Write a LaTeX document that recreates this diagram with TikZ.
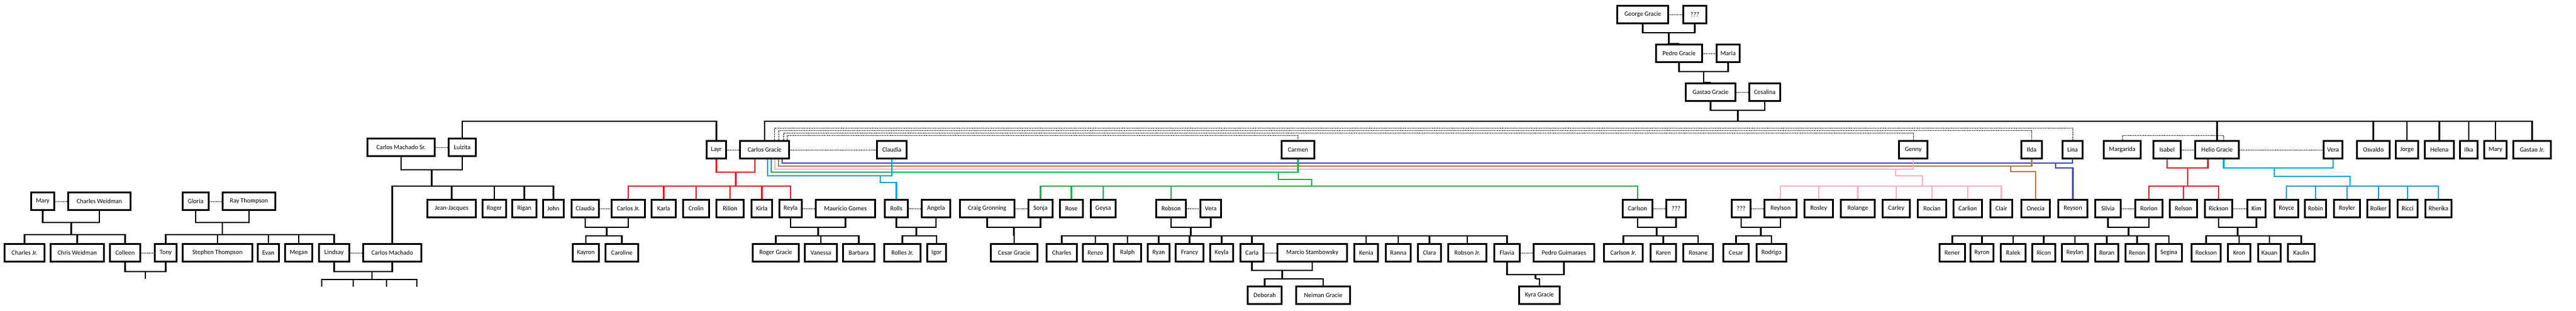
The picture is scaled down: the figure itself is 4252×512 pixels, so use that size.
\documentclass[tikz,border=0pt]{standalone}
\usepackage{fontspec}
\setmainfont{Carlito}
\usetikzlibrary{calc}
\definecolor{rd}{HTML}{ED1C24}
\definecolor{cy}{HTML}{00A2E8}
\definecolor{gn}{HTML}{22B14C}
\definecolor{pk}{HTML}{FFAEC9}
\definecolor{br}{HTML}{B97A57}
\definecolor{bl}{HTML}{3F48CC}
\tikzset{
  p/.style={draw, line width=2.6pt, minimum height=29.4pt, inner sep=1pt, font=\fontsize{10.5}{12}\selectfont},
  ln/.style={line width=2.6pt},
  sp/.style={line width=0.8pt, dash pattern=on 0.8pt off 0.8pt}
}
\newcommand\pn[5]{\node[p, minimum width={#3-#2-2.6}] (#1) at ({(#2+#3)/2},{#4+16}) {#5};}
\newcommand\family[6][]{%
  \draw[ln,#1] (#2) -- ++(0,#4) -| (#3);
  \coordinate (fj) at ($(#2)!.5!(#3)+(0,#4)$);
  \draw[ln,#1] (fj) -- (fj |- 0,#5);
  \foreach \k in {#6} \draw[ln,#1] (fj |- 0,#5) -| (\k.north);
}
\begin{document}
\begin{tikzpicture}[x=1pt, y=-1pt]
\useasboundingbox (0,0) rectangle (4252,512);
\pn{george}{2668}{2755}{8}{George Gracie}
\pn{q0}{2777}{2818}{8}{???}
\pn{pedro}{2732}{2811}{72}{Pedro Gracie}
\pn{maria}{2832}{2873}{72}{Maria}
\pn{gastao}{2781}{2866}{136}{Gastao Gracie}
\pn{cesalina}{2886}{2940}{136}{Cesalina}
\pn{cms}{605}{719}{227}{Carlos Machado Sr.}
\pn{luiz}{739}{787}{227}{Luizita}
\pn{layr}{1165}{1200}{231}{Layr}
\pn{cg}{1220}{1304}{231}{Carlos Gracie}
\pn{claudiaw}{1446}{1498}{231}{Claudia}
\pn{carmen}{2114}{2171}{231}{Carmen}
\pn{genny}{3133}{3183}{231}{Genny}
\pn{ilda}{3335}{3372}{231}{Ilda}
\pn{lina}{3403}{3439}{231}{Lina}
\pn{margarida}{3471}{3535}{231}{Margarida}
\pn{isabel}{3553}{3601}{231}{Isabel}
\pn{helio}{3622}{3697}{231}{Helio Gracie}
\pn{vera2}{3834}{3868}{231}{Vera}
\pn{osvaldo}{3889}{3946}{231}{Osvaldo}
\pn{jorge}{3953}{3993}{231}{Jorge}
\pn{helena}{4001}{4052}{231}{Helena}
\pn{ilka}{4059}{4091}{231}{Ilka}
\pn{maryg}{4099}{4139}{231}{Mary}
\pn{gastaojr}{4147}{4212}{231}{Gastao Jr.}
\pn{mary}{50}{91}{316}{Mary}
\pn{cw}{111}{217}{316}{Charles Weidman}
\pn{gloria}{300}{346}{316}{Gloria}
\pn{ray}{366}{456}{316}{Ray Thompson}
\pn{jj}{704}{787}{328}{Jean-Jacques}
\pn{rogerm}{795}{837}{328}{Roger}
\pn{rigan}{844}{887}{328}{Rigan}
\pn{john}{895}{932}{328}{John}
\pn{cld}{942}{990}{328}{Claudia}
\pn{carlosjr}{1008}{1066}{328}{Carlos Jr.}
\pn{karla}{1074}{1117}{328}{Karla}
\pn{crolin}{1126}{1172}{328}{Crolin}
\pn{rilion}{1181}{1229}{328}{Rilion}
\pn{kirla}{1239}{1276}{328}{Kirla}
\pn{reyla}{1285}{1325}{328}{Reyla}
\pn{mauricio}{1345}{1446}{328}{Mauricio Gomes}
\pn{rolls}{1459}{1500}{328}{Rolls}
\pn{angela}{1520}{1570}{328}{Angela}
\pn{craig}{1583}{1676}{328}{Craig Gronning}
\pn{sonja}{1696}{1739}{328}{Sonja}
\pn{rose}{1748}{1789}{328}{Rose}
\pn{geysa}{1799}{1843}{328}{Geysa}
\pn{robson}{1907}{1959}{328}{Robson}
\pn{vera}{1980}{2017}{328}{Vera}
\pn{carlson}{2677}{2729}{328}{Carlson}
\pn{q1}{2749}{2784}{328}{???}
\pn{q2}{2857}{2891}{328}{???}
\pn{reylson}{2911}{2967}{328}{Reylson}
\pn{rosley}{2977}{3027}{328}{Rosley}
\pn{rolange}{3037}{3096}{328}{Rolange}
\pn{carley}{3106}{3154}{328}{Carley}
\pn{rocian}{3164}{3214}{328}{Rocian}
\pn{carlion}{3223}{3273}{328}{Carlion}
\pn{clair}{3284}{3323}{328}{Clair}
\pn{onecia}{3335}{3385}{328}{Onecia}
\pn{reyson}{3396}{3447}{328}{Reyson}
\pn{silvia}{3457}{3502}{328}{Silvia}
\pn{rorion}{3523}{3571}{328}{Rorion}
\pn{relson}{3580}{3628}{328}{Relson}
\pn{rickson}{3638}{3686}{328}{Rickson}
\pn{kim}{3708}{3741}{328}{Kim}
\pn{royce}{3753}{3795}{328}{Royce}
\pn{robin}{3803}{3841}{328}{Robin}
\pn{royler}{3851}{3897}{328}{Royler}
\pn{rolker}{3906}{3946}{328}{Rolker}
\pn{ricci}{3956}{3992}{328}{Ricci}
\pn{rherika}{4002}{4048}{328}{Rherika}
\pn{cjr}{6}{75}{401}{Charles Jr.}
\pn{chrisw}{82}{173}{401}{Chris Weidman}
\pn{colleen}{180}{233}{401}{Colleen}
\pn{tony}{254}{293}{401}{Tony}
\pn{stephen}{300}{418}{401}{Stephen Thompson}
\pn{evan}{424}{462}{401}{Evan}
\pn{megan}{469}{517}{401}{Megan}
\pn{lindsay}{525}{578}{401}{Lindsay}
\pn{cmach}{598}{697}{401}{Carlos Machado}
\pn{kayron}{944}{990}{401}{Kayron}
\pn{caroline}{998}{1055}{401}{Caroline}
\pn{rogerg}{1241}{1320}{401}{Roger Gracie}
\pn{vanessa}{1327}{1383}{401}{Vanessa}
\pn{barbara}{1390}{1445}{401}{Barbara}
\pn{rollesjr}{1458}{1521}{401}{Rolles Jr.}
\pn{igor}{1529}{1563}{401}{Igor}
\pn{cesarg}{1634}{1714}{401}{Cesar Gracie}
\pn{charles}{1726}{1779}{401}{Charles}
\pn{renzo}{1786}{1830}{401}{Renzo}
\pn{ralph}{1837}{1885}{401}{Ralph}
\pn{ryan}{1893}{1932}{401}{Ryan}
\pn{francy}{1939}{1988}{401}{Francy}
\pn{keyla}{1996}{2037}{401}{Keyla}
\pn{carla}{2046}{2087}{401}{Carla}
\pn{marcio}{2107}{2225}{401}{Marcio Stambowsky}
\pn{kenia}{2234}{2276}{401}{Kenia}
\pn{ranna}{2286}{2330}{401}{Ranna}
\pn{clara}{2339}{2380}{401}{Clara}
\pn{robsonjr}{2389}{2455}{401}{Robson Jr.}
\pn{flavia}{2465}{2510}{401}{Flavia}
\pn{pedrog}{2530}{2633}{401}{Pedro Guimaraes}
\pn{carlsonjr}{2646}{2713}{401}{Carlson Jr.}
\pn{karen}{2723}{2768}{401}{Karen}
\pn{rosane}{2777}{2829}{401}{Rosane}
\pn{cesar}{2843}{2888}{401}{Cesar}
\pn{rodrigo}{2898}{2950}{401}{Rodrigo}
\pn{rener}{3200}{3245}{401}{Rener}
\pn{ryron}{3251}{3292}{401}{Ryron}
\pn{ralek}{3301}{3345}{401}{Ralek}
\pn{ricon}{3353}{3394}{401}{Ricon}
\pn{reylan}{3402}{3448}{401}{Reylan}
\pn{roran}{3457}{3498}{401}{Roran}
\pn{renon}{3507}{3548}{401}{Renon}
\pn{segina}{3557}{3603}{401}{Segina}
\pn{rockson}{3616}{3667}{401}{Rockson}
\pn{kron}{3676}{3716}{401}{Kron}
\pn{kauan}{3726}{3766}{401}{Kauan}
\pn{kaulin}{3775}{3822}{401}{Kaulin}
\pn{deborah}{2058}{2117}{471}{Deborah}
\pn{neiman}{2138}{2230}{471}{Neiman Gracie}
\pn{kyra}{2506}{2576}{471}{Kyra Gracie}
\foreach \a/\b in {george/q0, pedro/maria, gastao/cesalina, cms/luiz, layr/cg, cg/claudiaw,
  isabel/helio, helio/vera2, mary/cw, gloria/ray, cld/carlosjr, reyla/mauricio, rolls/angela,
  craig/sonja, robson/vera, carlson/q1, q2/reylson, silvia/rorion, rickson/kim, colleen/tony,
  lindsay/cmach, carla/marcio, flavia/pedrog}
  \draw[sp] (\a.east) -- (\b.west);
\draw[sp] ([xshift=16pt]cg.north) -- ++(0,-20) -| (lina.north);
\draw[sp] ([xshift=23pt]cg.north) -- ++(0,-16) -| (ilda.north);
\draw[sp] ([xshift=31pt]cg.north) -- ++(0,-12) -| (genny.north);
\draw[sp] ([xshift=37pt]cg.north) -- ++(0,-8) -| (carmen.north);
\draw[sp] (margarida.north) -- ++(0,-8) -| ([xshift=11pt]helio.north);
\family{george.south}{q0.south}{14}{72}{pedro}
\family{pedro.south}{maria.south}{14}{136}{gastao}
\family{gastao.south}{cesalina.south}{14}{200}{cg,helio,osvaldo,jorge,helena,ilka,maryg,gastaojr}
\draw[ln] (luiz.north) |- (layr.north |- 0,200) -- (layr.north);
\family{cms.south}{luiz.south}{21}{307}{cmach,jj,rogerm,rigan,john}
\family{mary.south}{cw.south}{19}{387}{cjr,chrisw,colleen}
\family{gloria.south}{ray.south}{19}{387}{tony,stephen,evan,megan,lindsay}
\draw[ln] (colleen.south) -- ++(0,15) -| (tony.south);
\coordinate (ct) at ($(colleen.south)!.5!(tony.south)+(0,15)$);
\draw[ln] (ct) -- ++(0,12);
\draw[ln] (lindsay.south) -- ++(0,15) -| (cmach.south);
\coordinate (lc) at (614,448);
\draw[ln] (lc) -- (lc |- 0,461);
\foreach \i/\x in {1/531,2/583,3/638,4/688} {
  \coordinate (cm\i) at (\x,473);
  \draw[ln] (lc |- 0,461) -| (cm\i);
}
\family[rd]{layr.south}{[xshift=-16pt]cg.south}{21}{307}{carlosjr,karla,crolin,rilion,kirla,reyla}
\family{cld.south}{carlosjr.south}{15}{389}{kayron,caroline}
\family{reyla.south}{mauricio.south}{15}{389}{rogerg,vanessa,barbara}
\family{rolls.south}{angela.south}{15}{389}{rollesjr,igor}
\family{craig.south}{sonja.south}{15}{389}{cesarg}
\family{robson.south}{vera.south}{15}{389}{charles,renzo,ralph,ryan,francy,keyla,carla,kenia,ranna,clara,robsonjr,flavia}
\family{carla.south}{marcio.south}{13}{460}{deborah,neiman}
\family{flavia.south}{pedrog.south}{20}{460}{kyra}
\family{carlson.south}{q1.south}{15}{389}{carlsonjr,karen,rosane}
\family{q2.south}{reylson.south}{15}{389}{cesar,rodrigo}
\family{silvia.south}{rorion.south}{15}{389}{rener,ryron,ralek,ricon,reylan,roran,renon,segina}
\family{rickson.south}{kim.south}{15}{389}{rockson,kron,kauan,kaulin}
\draw[ln,bl] ([xshift=29pt]cg.south) |- (lina.south |- 0,269) -- (lina.south);
\coordinate (blA) at (3393,269);
\draw[ln,bl] (blA) -- ++(0,8) -| (reyson.north);
\draw[ln,br] ([xshift=23pt]cg.south) |- (ilda.south |- 0,274) -- (ilda.south);
\coordinate (brA) at (3319,274);
\draw[ln,br] (brA) -- ++(0,9) -| (onecia.north);
\draw[ln,pk] ([xshift=17pt]cg.south) |- (genny.south |- 0,279) -- (genny.south);
\coordinate (pkA) at (3129,279);
\draw[ln,pk] (pkA) -- ++(0,11) -- ++(44,0) -- ++(0,17) coordinate (pkC);
\foreach \k in {reylson,rosley,rolange,carley,rocian,carlion,clair} \draw[ln,pk] (pkC) -| (\k.north);
\draw[ln,gn] ([xshift=11pt]cg.south) |- (carmen.south |- 0,284) -- (carmen.south);
\coordinate (gnA) at (2110,284);
\draw[ln,gn] (gnA) -- ++(0,12) -- ++(55,0) -- ++(0,11) coordinate (gnC);
\foreach \k in {sonja,rose,geysa,robson,carlson} \draw[ln,gn] (gnC) -| (\k.north);
\draw[ln,cy] ([xshift=5pt]cg.south) |- (claudiaw.south |- 0,290) -- (claudiaw.south);
\coordinate (cyA) at (1453,290);
\draw[ln,cy] (cyA) -- ++(0,11) -| (rolls.north);
\family[rd]{isabel.south}{[xshift=-15pt]helio.south}{14}{307}{rorion,relson,rickson}
\draw[ln,cy] ([xshift=11pt]helio.south) |- (vera2.south |- 0,277) -- (vera2.south);
\coordinate (hcA) at (3754,277);
\draw[ln,cy] (hcA) -- ++(0,14) -- ++(125,0) -- ++(0,16) coordinate (hcC);
\foreach \k in {royce,robin,royler,rolker,ricci,rherika} \draw[ln,cy] (hcC) -| (\k.north);
\end{tikzpicture}
\end{document}
